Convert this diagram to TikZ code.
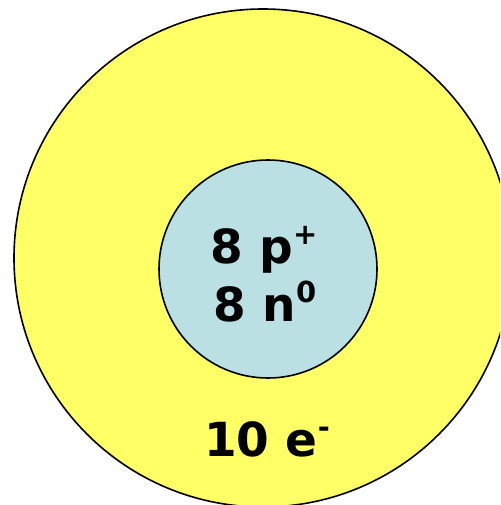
\documentclass[tikz,border=0pt]{standalone}
\usepackage{fontspec}
\setmainfont{DejaVu Sans}
\definecolor{shellyellow}{RGB}{255,255,102}
\definecolor{nucleusblue}{RGB}{186,224,228}
\newcommand{\supx}[1]{\raisebox{0.40em}{\fontsize{29}{29}\selectfont #1}}
\begin{document}
\begin{tikzpicture}[x=1pt,y=-1pt,
  ring/.style={circle,draw=black,line width=1.6pt,inner sep=0pt},
  lbl/.style={font=\bfseries\fontsize{47}{47}\selectfont,inner sep=0pt,anchor=base}]
\useasboundingbox (0,0) rectangle (500,505);
\clip (0,0) rectangle (500,505);
\node[ring,fill=shellyellow,minimum size=498pt] (shell) at (263,258) {};
\node[ring,fill=nucleusblue,minimum size=218pt] (nucleus) at (268,269) {};
\node[lbl] (protons) at (264,263) {8 p\supx{+}};
\node[lbl] (neutrons) at (265,321) {8 n\supx{0}};
\node[lbl] (electrons) at (267,456) {10 e\supx{-}};
\end{tikzpicture}
\end{document}
